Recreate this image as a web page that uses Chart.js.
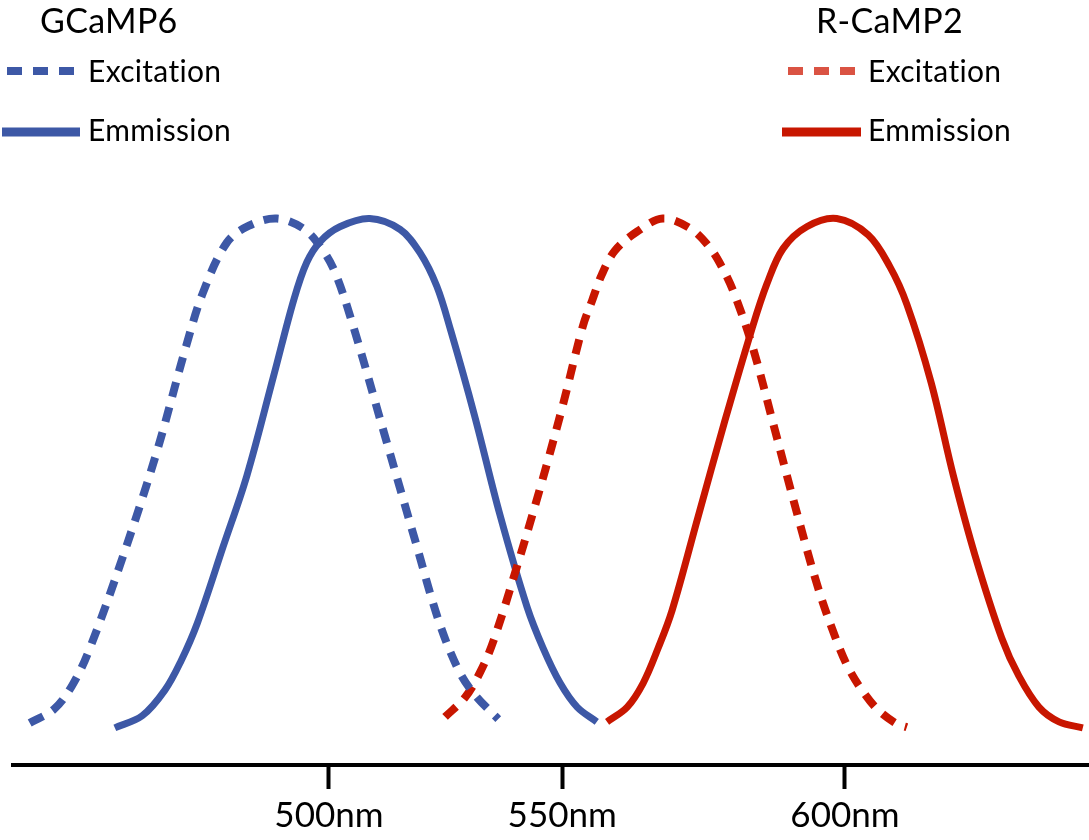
<!DOCTYPE html>
<html>
<head>
<meta charset="utf-8">
<script src="https://cdn.jsdelivr.net/npm/chart.js@4.4.1/dist/chart.umd.min.js"></script>
<style>
  html, body { margin: 0; padding: 0; background: #fff; }
  #wrap { width: 1089px; height: 840px; position: relative; }
</style>
</head>
<body>
<div id="wrap"><canvas id="spectraChart"></canvas></div>
<script>
// ---------------------------------------------
// data: wavelength (nm) vs relative intensity
// ---------------------------------------------
const groupNames = ['GCaMP6', 'R-CaMP2'];
const seriesNames = ['Excitation', 'Emmission'];

const tickValues = [500, 545.2, 600];
const tickLabels = ['500nm', '550nm', '600nm'];

const gcampExcitation = [
    [442.0, 0.077], [446.7, 0.102], [450.2, 0.145], [453.5, 0.210], [459.9, 0.377],
    [466.5, 0.569], [472.3, 0.766], [475.6, 0.865], [480.2, 0.956], [484.5, 0.987],
    [489.9, 1.0], [495.0, 0.982], [498.6, 0.945], [501.2, 0.901], [504.7, 0.803],
    [510.7, 0.607], [516.7, 0.411], [521.3, 0.263], [525.2, 0.172], [528.3, 0.128],
    [532.8, 0.084]
];
const gcampEmission = [
    [458.5, 0.068], [463.8, 0.090], [468.2, 0.137], [471.3, 0.190], [474.5, 0.260],
    [479.5, 0.400], [484.1, 0.530], [489.3, 0.713], [493.2, 0.852], [495.7, 0.920],
    [498.3, 0.958], [502.1, 0.985], [507.9, 1.0], [513.8, 0.980], [517.6, 0.938],
    [520.9, 0.876], [523.6, 0.795], [528.2, 0.640], [533.1, 0.459], [538.4, 0.289],
    [541.5, 0.214], [544.8, 0.150], [548.1, 0.106], [551.9, 0.079]
];
const rcampExcitation = [
    [522.5, 0.088], [526.4, 0.124], [529.3, 0.170], [531.8, 0.225], [536.4, 0.362],
    [540.9, 0.506], [545.2, 0.654], [549.2, 0.803], [551.0, 0.850], [552.9, 0.898],
    [555.4, 0.941], [559.7, 0.976], [564.7, 1.0], [570.0, 0.982], [573.8, 0.947],
    [576.4, 0.907], [578.7, 0.859], [582.2, 0.762], [586.4, 0.614], [590.5, 0.468],
    [594.8, 0.324], [598.4, 0.227], [600.6, 0.179], [603.3, 0.137], [606.4, 0.101],
    [610.1, 0.075], [612.0, 0.069]
];
const rcampEmission = [
    [553.9, 0.079], [557.8, 0.106], [560.9, 0.150], [563.8, 0.214], [566.5, 0.283],
    [571.5, 0.453], [576.7, 0.629], [582.0, 0.799], [584.9, 0.881], [588.0, 0.945],
    [592.6, 0.985], [598.4, 1.0], [604.5, 0.970], [608.7, 0.912], [612.0, 0.843],
    [616.7, 0.700], [621.0, 0.530], [625.2, 0.384], [630.4, 0.232], [633.7, 0.163],
    [637.6, 0.106], [641.5, 0.079], [646.1, 0.068]
];

const BLUE = '#3d58a6';
const RED = '#c81600';
const RED_LIGHT = '#da5343';
const DASH = [15, 11];

Chart.defaults.font.family = 'Lato';
Chart.defaults.color = '#000';

const toXY = arr => arr.map(([x, y]) => ({ x, y }));

// legend: two groups, title + 2 rows each
const groupLegend = {
    id: 'groupLegend',
    afterDraw(chart) {
        const ctx = chart.ctx;
        const ds = chart.data.datasets;
        const cols = [
            { titleX: 40, lineX0: 7, lineX1: 74, solidX0: 2, solidX1: 80, textX: 88, sets: [0, 1] },
            { titleX: 816, lineX0: 788, lineX1: 855, solidX0: 782, solidX1: 861, textX: 868, sets: [2, 3] }
        ];
        ctx.save();
        ctx.fillStyle = '#000';
        ctx.textBaseline = 'alphabetic';
        ctx.letterSpacing = '0.3px'; // keeps "ti" from turning into a ligature
        cols.forEach((c, gi) => {
            ctx.font = '34px Lato';
            ctx.fillText(groupNames[gi], c.titleX, 33);

            // excitation row
            const ex = ds[c.sets[0]];
            ctx.beginPath();
            ctx.strokeStyle = ex.legendColor || ex.borderColor;
            ctx.lineWidth = 8;
            ctx.setLineDash(DASH);
            ctx.moveTo(c.lineX0, 71);
            ctx.lineTo(c.lineX1, 71);
            ctx.stroke();

            // emission row
            const em = ds[c.sets[1]];
            ctx.beginPath();
            ctx.strokeStyle = em.legendColor || em.borderColor;
            ctx.lineWidth = 9;
            ctx.setLineDash([]);
            ctx.moveTo(c.solidX0, 132);
            ctx.lineTo(c.solidX1, 132);
            ctx.stroke();

            ctx.font = '30px Lato';
            ctx.fillText(seriesNames[0], c.textX, 82);
            ctx.fillText(seriesNames[1], c.textX, 141);
        });
        ctx.restore();
    }
};

new Chart(document.getElementById('spectraChart'), {
    type: 'line',
    data: {
        datasets: [
            {
                label: groupNames[0] + ' ' + seriesNames[0],
                data: toXY(gcampExcitation),
                borderColor: BLUE,
                borderWidth: 8,
                borderDash: DASH,
                order: 1
            },
            {
                label: groupNames[0] + ' ' + seriesNames[1],
                data: toXY(gcampEmission),
                borderColor: BLUE,
                borderWidth: 7,
                order: 2
            },
            {
                label: groupNames[1] + ' ' + seriesNames[0],
                data: toXY(rcampExcitation),
                borderColor: RED,
                legendColor: RED_LIGHT,
                borderWidth: 8,
                borderDash: DASH,
                order: 1
            },
            {
                label: groupNames[1] + ' ' + seriesNames[1],
                data: toXY(rcampEmission),
                borderColor: RED,
                borderWidth: 7,
                order: 2
            }
        ]
    },
    options: {
        responsive: true,
        maintainAspectRatio: false,
        animation: false,
        layout: { padding: { left: 13, right: 0, top: 0, bottom: 0 } },
        elements: {
            point: { radius: 0, hoverRadius: 0 },
            line: { tension: 0.35, fill: false }
        },
        plugins: {
            legend: { display: false },
            tooltip: { enabled: false }
        },
        scales: {
            x: {
                type: 'linear',
                min: 438.76,
                max: 647.3,
                afterBuildTicks: scale => {
                    scale.ticks = tickValues.map(v => ({ value: v }));
                },
                afterFit: scale => { scale.height = 75; },
                border: { display: true, color: '#000', width: 4 },
                grid: {
                    drawOnChartArea: false,
                    drawTicks: true,
                    tickLength: 24,
                    tickWidth: 4,
                    tickColor: '#000'
                },
                ticks: {
                    autoSkip: false,
                    maxRotation: 0,
                    padding: 6,
                    color: '#000',
                    font: { size: 35 },
                    callback: value => tickLabels[tickValues.indexOf(value)]
                }
            },
            y: {
                display: false,
                min: 0,
                max: 1.4
            }
        }
    },
    plugins: [groupLegend]
});
</script>
</body>
</html>
